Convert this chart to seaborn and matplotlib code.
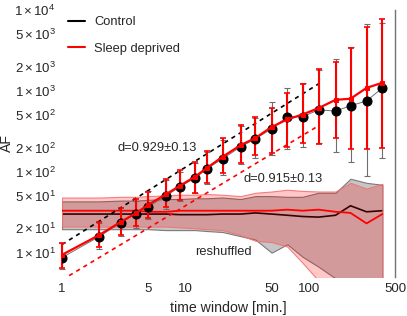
import numpy as np
import pandas as pd
import matplotlib
matplotlib.use("Agg")
import matplotlib.pyplot as plt
import matplotlib.ticker as mticker
from matplotlib.lines import Line2D
import seaborn as sns

# time windows [min.]
time_win = [1, 2, 3, 4, 5, 7, 9, 12, 15, 20, 28, 37, 50, 67, 89, 120, 165, 218, 294, 395]

# control: mean AF and error bar bounds
ctrl_af = [8.7, 15.8, 23.5, 30.3, 37, 50.6, 65, 84, 109, 145, 203, 256, 340, 478, 478, 582, 563, 655, 750, 1088]
ctrl_hi = [13, 23, 33, 44, 58, 80, 100, 130, 175, 250, 370, 464, 730, 1090, 1250, 1830, 2500, 3500, 6800, 7000]
ctrl_lo = [6.2, 11, 16, 20, 26, 35, 44, 55, 70, 92, 125, 150, 160, 190, 200, 230, 177, 133, 89, 150]

# sleep deprived: mean AF and error bar bounds
sd_af = [9.4, 16.5, 24, 31, 39, 53, 67, 87, 112, 153, 213, 262, 357, 445, 510, 612, 775, 800, 1088, 1260]
sd_hi = [13.3, 24, 36, 46, 56, 82, 106, 133, 182, 262, 380, 470, 615, 945, 1220, 1870, 2270, 3390, 6160, 7800]
sd_lo = [6.5, 11.9, 16.7, 21.5, 27, 37, 45, 55, 73, 97, 129, 160, 172, 200, 229, 220, 262, 192, 192, 197]

# reshuffled surrogates (mean and band)
ctrl_shuf = [30, 30, 30, 30, 30, 30, 29.5, 29.5, 29.5, 30, 30, 31, 30, 29, 28, 27.5, 29, 38, 32, 33]
ctrl_shuf_top = [43, 43, 44, 44, 45, 46, 46, 47, 47, 48, 46, 50, 50, 49, 49, 55, 55, 82, 73, 69]
ctrl_shuf_bot = [19.5, 19.5, 19.5, 19.5, 19.5, 19, 19, 19, 18.5, 18, 16, 14.5, 10, 12.7, 8.9, 6.7, 4.8, 3.5, 3.5, 3.5]
sd_shuf = [33, 33, 33, 33, 32, 32, 33, 33, 33, 33, 33, 33, 33, 34, 33, 34, 32, 31, 23, 30]
sd_shuf_top = [48, 48, 49, 49, 50, 51, 52, 52, 53, 52, 50, 55, 57, 60, 58, 57, 57, 73, 62, 71]
sd_shuf_bot = [21, 21, 21, 21, 21, 21, 20.5, 20, 19.5, 19, 16.5, 14, 13.5, 11.9, 7.5, 4.5, 3.5, 3.5, 3.5, 3.5]

# power-law fit lines (end points)
fit_x = [1, 120]
ctrl_fit = [12.6, 1220]
sd_fit = [4.6, 370]

ytick_vals = [1e1, 2e1, 5e1, 1e2, 2e2, 5e2, 1e3, 2e3, 5e3, 1e4]
ytick_labels = [r"$1\times10^{1}$", r"$2\times10^{1}$", r"$5\times10^{1}$",
                r"$1\times10^{2}$", r"$2\times10^{2}$", r"$5\times10^{2}$",
                r"$1\times10^{3}$", r"$2\times10^{3}$", r"$5\times10^{3}$",
                r"$1\times10^{4}$"]
xtick_vals = [1, 5, 10, 50, 100, 500]

sns.set_style("white")
plt.rcParams['font.family'] = ['Liberation Sans', 'DejaVu Sans']
plt.rcParams['mathtext.fontset'] = 'custom'
plt.rcParams['mathtext.rm'] = 'Liberation Sans'
plt.rcParams['mathtext.it'] = 'Liberation Sans:italic'

fig = plt.figure(figsize=(4.07, 3.16), dpi=100)
ax = fig.add_axes([0.1523, 0.1234, 0.8182, 0.845])
ax.set_xscale('log')
ax.set_yscale('log')

x = np.array(time_win)

# reshuffled bands
ax.fill_between(x, ctrl_shuf_bot, ctrl_shuf_top, facecolor='#c6c6c6',
                edgecolor='#7a7a7a', lw=0.8, zorder=1)
sns.lineplot(x=x, y=ctrl_shuf, color='black', lw=1.2, ax=ax, zorder=2)
ax.fill_between(x, sd_shuf_bot, sd_shuf_top, facecolor=(1, 0, 0, 0.22),
                edgecolor=(0.95, 0.45, 0.45, 0.9), lw=0.8, zorder=3)
sns.lineplot(x=x, y=sd_shuf, color='red', lw=1.3, ax=ax, zorder=4)

# fits
ax.plot(fit_x, ctrl_fit, ls=(0, (2.5, 2.5)), color='black', lw=1.2, zorder=5)
ax.plot(fit_x, sd_fit, ls=(0, (2.5, 2.5)), color='red', lw=1.2, zorder=5)

# error bars
c_af = np.array(ctrl_af)
s_af = np.array(sd_af)
eb1 = ax.errorbar(x, c_af, yerr=[c_af - np.array(ctrl_lo), np.array(ctrl_hi) - c_af],
                  fmt='none', ecolor='#6e6e6e', elinewidth=0.8, capsize=2, capthick=0.8, zorder=6)
eb2 = ax.errorbar(x, s_af, yerr=[s_af - np.array(sd_lo), np.array(sd_hi) - s_af],
                  fmt='none', ecolor='red', elinewidth=1.5, capsize=2.2, capthick=1.2, zorder=7)
for eb in (eb1, eb2):
    for art in eb.lines[1] + eb.lines[2]:
        art.set_clip_on(False)

sns.lineplot(x=x, y=c_af, color='#707070', lw=0.7, marker='o', markersize=6.5,
             markerfacecolor='black', markeredgecolor='black', ax=ax, zorder=8)
sns.lineplot(x=x, y=s_af, color='red', lw=1.6, marker='s', markersize=3.2,
             markeredgecolor='red', ax=ax, zorder=9)

ax.set_xlim(1, 500)
ax.set_ylim(5, 1e4)
ax.xaxis.set_minor_locator(mticker.NullLocator())
ax.yaxis.set_minor_locator(mticker.NullLocator())
ax.set_xticks(xtick_vals)
ax.set_xticklabels([str(v) for v in xtick_vals])
ax.set_yticks(ytick_vals)
ax.set_yticklabels(ytick_labels)
ax.tick_params(axis='both', length=1.5, width=0.6, color='0.5', labelsize=9.5, pad=3)

for s in ['top', 'left', 'bottom']:
    ax.spines[s].set_visible(False)
ax.spines['right'].set_visible(True)
ax.spines['right'].set_color('0.45')
ax.spines['right'].set_linewidth(1.0)

ax.set_xlabel('time window [min.]', fontsize=10.2)
ax.set_ylabel('AF', fontsize=10.2)
ax.xaxis.set_label_coords(0.498, -0.09)
ax.yaxis.set_label_coords(-0.145, 0.5)

# annotations placed in figure pixels
ax.annotate('d=0.929±0.13', xy=(118, 316 - 148), xycoords='figure pixels',
            fontsize=9.3, va='center')
ax.annotate('d=0.915±0.13', xy=(243, 316 - 179), xycoords='figure pixels',
            fontsize=9.3, va='center')
ax.annotate('reshuffled', xy=(195, 316 - 252), xycoords='figure pixels',
            fontsize=9.3, va='center')

handles = [Line2D([], [], color='black', lw=1.5), Line2D([], [], color='red', lw=1.5)]
ax.legend(handles, ['Control', 'Sleep deprived'], loc='upper left', frameon=False,
          fontsize=9.3, handlelength=1.3, handletextpad=0.7, labelspacing=1.1,
          borderaxespad=0.2, borderpad=0.3)

fig.savefig('out.png', dpi=100)
